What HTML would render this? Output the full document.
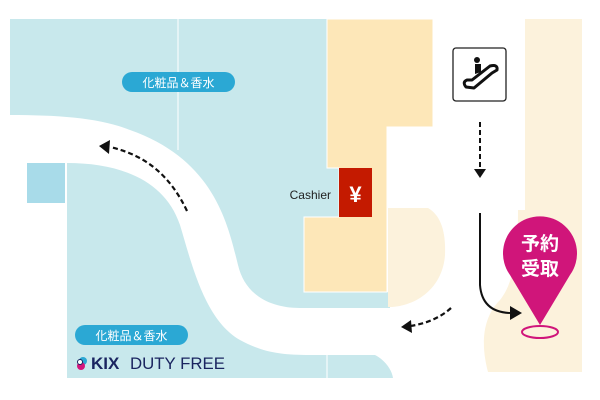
<!DOCTYPE html>
<html><head><meta charset="utf-8"><style>
html,body{margin:0;padding:0;background:#fff;width:600px;height:400px;overflow:hidden}
svg{display:block}
text{font-family:"Liberation Sans","Noto Sans CJK JP",sans-serif}
</style></head><body>
<svg width="600" height="400" viewBox="0 0 600 400" xmlns="http://www.w3.org/2000/svg">
<path d="M10 19 H327 V168 H339 V217 H304 V292 H390 V308 H300 C270 308 245 295 238 265 C228 225 215 160 130 130 C100 118 60 115 10 115 Z" fill="#c8e8ec"/>
<path d="M67 163 C120 163 165 180 180 225 C192 265 205 320 240 340 C262 352 280 355 310 355 H375 C385 360 392 370 393 378 H67 Z" fill="#c8e8ec"/>
<rect x="27" y="163" width="38" height="40" fill="#a8dbe9"/>
<line x1="178" y1="19" x2="178" y2="150" stroke="#fff" stroke-width="1"/>
<line x1="327" y1="355" x2="327" y2="378" stroke="#fff" stroke-width="1"/>
<path d="M327 19 H433 V127 H387 V292 H304 V217 H339 V168 H327 Z" fill="#fde7b8" stroke="#fff" stroke-width="1"/>
<path d="M388 208 H428 C440 215 446 230 445 255 C443 285 420 305 392 307 H388 Z" fill="#fcf2dc"/>
<path d="M525 19 H582 V372 H488 C482 350 480 320 500 300 C512 285 518 260 518 210 H525 Z" fill="#fcf2dc"/>
<rect x="339" y="168" width="33" height="49" fill="#c41a00"/>
<text x="355.5" y="202" font-size="22" font-weight="bold" fill="#fff" text-anchor="middle">¥</text>
<text x="331" y="199" font-size="12" fill="#222" text-anchor="end">Cashier</text>
<rect x="122" y="72" width="113" height="20" rx="10" fill="#2ba8d4"/>
<text x="178.5" y="87" font-size="12" fill="#fff" text-anchor="middle">化粧品＆香水</text>
<rect x="75" y="325" width="113" height="20" rx="10" fill="#2ba8d4"/>
<text x="131.5" y="340" font-size="12" fill="#fff" text-anchor="middle">化粧品＆香水</text>
<circle cx="83" cy="361" r="4" fill="#2ba8d4"/>
<circle cx="81" cy="366" r="4" fill="#d4157c"/>
<circle cx="80" cy="362" r="2.5" fill="#fff" stroke="#1a2560" stroke-width="1"/>
<text x="91" y="369" font-size="17" font-weight="bold" fill="#1a2560">KIX</text>
<text x="130" y="369" font-size="17" fill="#1a2560" textLength="95" lengthAdjust="spacingAndGlyphs">DUTY FREE</text>
<rect x="453" y="48" width="53" height="53" rx="3" fill="#fff" stroke="#222" stroke-width="1.3"/>
<circle cx="477" cy="60" r="3" fill="#111"/>
<path d="M475 64 L481 64 L481 72 L475 74 Z" fill="#111"/>
<path d="M466 87 Q462 82 467 80 L472 80 L490 66 Q498 64 497 70 L492 73 L474 88 Z" fill="none" stroke="#111" stroke-width="3" stroke-linejoin="round"/>
<line x1="480" y1="122" x2="480" y2="170" stroke="#111" stroke-width="2" stroke-dasharray="5,3"/>
<path d="M474 169 L486 169 L480 178 Z" fill="#111"/>
<path d="M480 213 V285 Q482 312 510 313" fill="none" stroke="#111" stroke-width="2"/>
<path d="M510 306 L522 313 L510 320 Z" fill="#111"/>
<path d="M187 211 C170 175 145 155 110 147" fill="none" stroke="#111" stroke-width="2.2" stroke-dasharray="5,3"/>
<path d="M99 146 L110 140 L109 154 Z" fill="#111"/>
<path d="M451 308 C440 318 425 324 410 326" fill="none" stroke="#111" stroke-width="2.2" stroke-dasharray="5,3"/>
<path d="M401 327 L411 320 L412 333 Z" fill="#111"/>
<path d="M540 325 L510 275 A37 37 0 1 1 570 275 Z" fill="#d0157a"/>
<ellipse cx="540" cy="332" rx="18" ry="6" fill="none" stroke="#d0157a" stroke-width="2"/>
<text x="540" y="250" font-size="19" font-weight="bold" fill="#fff" text-anchor="middle">予約</text>
<text x="540" y="275" font-size="19" font-weight="bold" fill="#fff" text-anchor="middle">受取</text>
</svg>
</body></html>
